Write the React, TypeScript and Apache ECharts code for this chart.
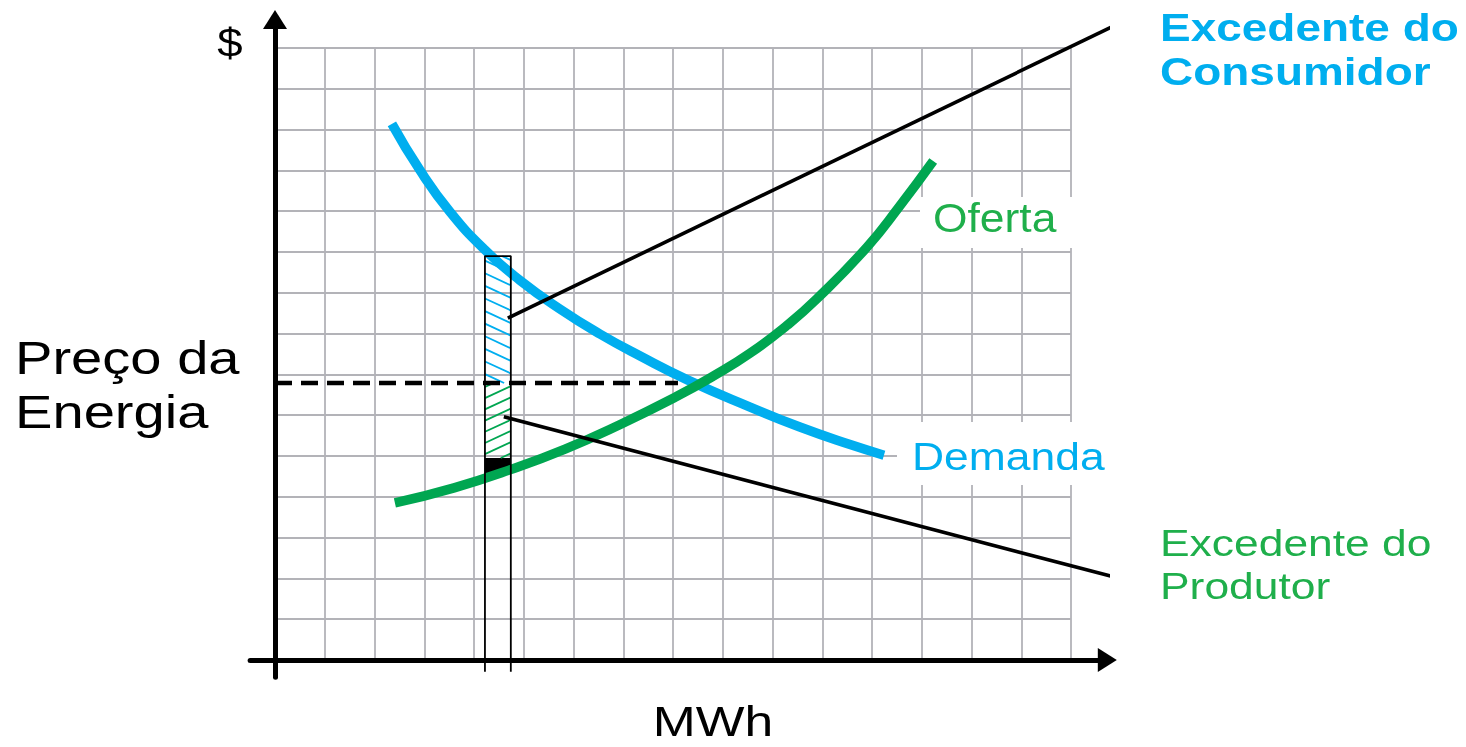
import React, { useEffect, useRef } from "react";
import * as echarts from "echarts";

// ---- data (grid units: x = MWh cells, y = $ cells) ----
const gridCols = 16;
const gridRows = 15;

const demandPoints: [number, number][] = [
  [2.35, 13.14], [2.91, 12.01], [3.52, 10.98], [4.22, 10.05], [4.92, 9.31],
  [5.73, 8.6], [6.53, 7.99], [7.34, 7.45], [8.3, 6.86], [9.55, 6.2],
  [10.55, 5.71], [11.56, 5.28], [12.24, 5.02],
];

const supplyPoints: [number, number][] = [
  [2.41, 3.85], [3.6, 4.22], [4.72, 4.66], [5.83, 5.17], [6.95, 5.78],
  [8.06, 6.45], [8.8, 6.95], [9.55, 7.52], [10.29, 8.2], [10.89, 8.85],
  [11.9, 10.12], [12.56, 11.13], [13.23, 12.23],
];

const energyPrice = 6.79;
const priceLineX = [0, 8.1];

const sliceQty = [4.22, 4.74];
const sliceTop = 9.9;
const sliceBase = -0.29;
const producerFloor = 4.95;

const consumerCallout: [number, number][] = [[4.68, 8.38], [17.03, 15.64]];
const producerCallout: [number, number][] = [[4.6, 5.96], [16.94, 2.01]];
const blackFill: [number, number][] = [[4.22, 4.95], [4.74, 4.95], [4.74, 4.62], [4.22, 4.52]];

const yAxisTitle = "$";
const xAxisTitle = "MWh";
const priceTitle = "Preço da\nEnergia";
const supplyName = "Oferta";
const demandName = "Demanda";
const consumerSurplusName = "Excedente do\nConsumidor";
const producerSurplusName = "Excedente do\nProdutor";

// ---- layout ----
const OX = 275;
const OY = 660;
const UX = 49.75;
const UY = 40.8;
const X_MIN = -0.5;
const X_MAX = 16.73;
const Y_MIN = -0.42;
const Y_MAX = 15.7;

const BLUE = "#00AEEF";
const GREEN = "#00A651";
const GREEN_TEXT = "#1FAF4B";
const GRIDC = "#b3b3b8";

export default function App() {
  const ref = useRef<HTMLDivElement>(null);
  useEffect(() => {
    if (!ref.current) return;
    const chart = echarts.init(ref.current, undefined, { renderer: "svg" });

    const hatch = (params: any, api: any) => {
      const x0 = api.value(0), x1 = api.value(1), yt = api.value(2), yb = api.value(3), dir = api.value(4);
      const a = api.coord([x0, yt]);
      const b = api.coord([x1, yb]);
      const L = a[0], R = b[0], T = a[1], B = b[1];
      const drop = 12;
      const step = dir === 0 ? 12.6 : 11.2;
      const color = dir === 0 ? BLUE : GREEN;
      const children: any[] = [];
      for (let s = T - drop + 4; s < B; s += step) {
        let ya = s, yb2 = s + drop, xa = L, xb = R;
        if (ya < T) { xa = L + ((T - s) / drop) * (R - L); ya = T; }
        if (yb2 > B) { xb = L + ((B - s) / drop) * (R - L); yb2 = B; }
        if (xb <= xa) continue;
        const sx1 = dir === 0 ? xa : L + R - xa;
        const sx2 = dir === 0 ? xb : L + R - xb;
        children.push({ type: "line", shape: { x1: sx1, y1: ya, x2: sx2, y2: yb2 }, style: { stroke: color, lineWidth: 1.8 } });
      }
      return { type: "group", children };
    };

    const fillPoly = (params: any, api: any) => ({
      type: "polygon",
      shape: { points: blackFill.map((p) => api.coord(p)) },
      style: { fill: "#000" },
    });

    const txt = (text: string, x: number, y: number, o: any) => ({
      type: "text",
      x,
      y,
      z: 60,
      scaleX: o.scaleX,
      style: {
        text,
        fontFamily: o.family || "Liberation Sans",
        fontSize: o.size,
        fontWeight: o.weight || "normal",
        fill: o.color || "#000",
        align: o.align || "left",
        verticalAlign: "middle",
        lineHeight: o.lineHeight,
      },
    });

    const arrowAxisLine = {
      show: true,
      onZero: true,
      symbol: ["none", "triangle"],
      symbolSize: [24, 19],
      lineStyle: { color: "#000", width: 5 },
    };

    chart.setOption({
      animation: false,
      grid: [
        {
          left: OX + X_MIN * UX,
          top: OY - Y_MAX * UY,
          width: (X_MAX - X_MIN) * UX,
          height: (Y_MAX - Y_MIN) * UY,
          containLabel: false,
        },
        { left: OX, top: OY - gridRows * UY, width: gridCols * UX, height: gridRows * UY },
      ],
      xAxis: [
        {
          gridIndex: 0, type: "value", min: X_MIN, max: X_MAX, z: 4,
          axisLine: arrowAxisLine,
          axisTick: { show: false }, axisLabel: { show: false }, splitLine: { show: false },
        },
        {
          gridIndex: 1, type: "value", min: 0, max: gridCols, interval: 1,
          axisLine: { show: false }, axisTick: { show: false }, axisLabel: { show: false },
          splitLine: { show: true, lineStyle: { color: GRIDC, width: 1.8 } },
        },
      ],
      yAxis: [
        {
          gridIndex: 0, type: "value", min: Y_MIN, max: Y_MAX, z: 4,
          axisLine: arrowAxisLine,
          axisTick: { show: false }, axisLabel: { show: false }, splitLine: { show: false },
        },
        {
          gridIndex: 1, type: "value", min: 0, max: gridRows, interval: 1,
          axisLine: { show: false }, axisTick: { show: false }, axisLabel: { show: false },
          splitLine: { show: true, lineStyle: { color: GRIDC, width: 1.8 } },
        },
      ],
      series: [
        {
          type: "custom", xAxisIndex: 0, yAxisIndex: 0, clip: false, z: 2,
          renderItem: fillPoly, data: [[sliceQty[0], producerFloor]],
        },
        {
          type: "custom", xAxisIndex: 0, yAxisIndex: 0, clip: false, z: 2,
          renderItem: hatch,
          data: [
            [sliceQty[0], sliceQty[1], sliceTop, energyPrice, 0],
            [sliceQty[0], sliceQty[1], energyPrice, producerFloor, 1],
          ],
        },
        {
          name: "Demanda", type: "line", xAxisIndex: 0, yAxisIndex: 0, clip: false, z: 3,
          smooth: 0.5, symbol: "none", data: demandPoints,
          lineStyle: { color: BLUE, width: 9.5 },
        },
        {
          name: "Oferta", type: "line", xAxisIndex: 0, yAxisIndex: 0, clip: false, z: 3,
          smooth: 0.5, symbol: "none", data: supplyPoints,
          lineStyle: { color: GREEN, width: 9.5 },
        },
        {
          type: "line", xAxisIndex: 0, yAxisIndex: 0, clip: false, z: 4, symbol: "none",
          data: [[priceLineX[0], energyPrice], [priceLineX[1], energyPrice]],
          lineStyle: { color: "#000", width: 4.5, type: [17, 9] },
        },
        {
          type: "line", xAxisIndex: 0, yAxisIndex: 0, clip: false, z: 5, symbol: "none",
          data: [[sliceQty[0], sliceBase], [sliceQty[0], sliceTop], [sliceQty[1], sliceTop], [sliceQty[1], sliceBase]],
          lineStyle: { color: "#000", width: 1.8 },
        },
        {
          type: "line", xAxisIndex: 0, yAxisIndex: 0, clip: false, z: 5, symbol: "none",
          data: consumerCallout, lineStyle: { color: "#000", width: 3.6 },
        },
        {
          type: "line", xAxisIndex: 0, yAxisIndex: 0, clip: false, z: 5, symbol: "none",
          data: producerCallout, lineStyle: { color: "#000", width: 3.6 },
        },
      ],
      graphic: [
        { type: "rect", z: 50, shape: { x: 920, y: 197, width: 160, height: 51 }, style: { fill: "#fff" } },
        { type: "rect", z: 50, shape: { x: 897, y: 422, width: 215, height: 63 }, style: { fill: "#fff" } },
        txt(yAxisTitle, 230, 43, { size: 40, scaleX: 1.14, align: "center" }),
        txt(priceTitle, 15, 385, { size: 46, scaleX: 1.22, lineHeight: 54 }),
        txt(xAxisTitle, 713, 721, { size: 43, scaleX: 1.2, align: "center", lineHeight: 38 }),
        txt(supplyName, 933, 218, { size: 40, scaleX: 1.11, color: GREEN_TEXT }),
        txt(demandName, 912, 456, { size: 39, scaleX: 1.14, color: BLUE }),
        txt(consumerSurplusName, 1160, 50, { size: 38, scaleX: 1.21, color: BLUE, weight: "bold", lineHeight: 44 }),
        txt(producerSurplusName, 1160, 565, { size: 37, scaleX: 1.2, color: GREEN_TEXT, lineHeight: 43 }),
      ],
    });
    return () => chart.dispose();
  }, []);
  return <div ref={ref} style={{ position: "fixed", left: 0, top: 0, width: 1466, height: 747 }} />;
}
